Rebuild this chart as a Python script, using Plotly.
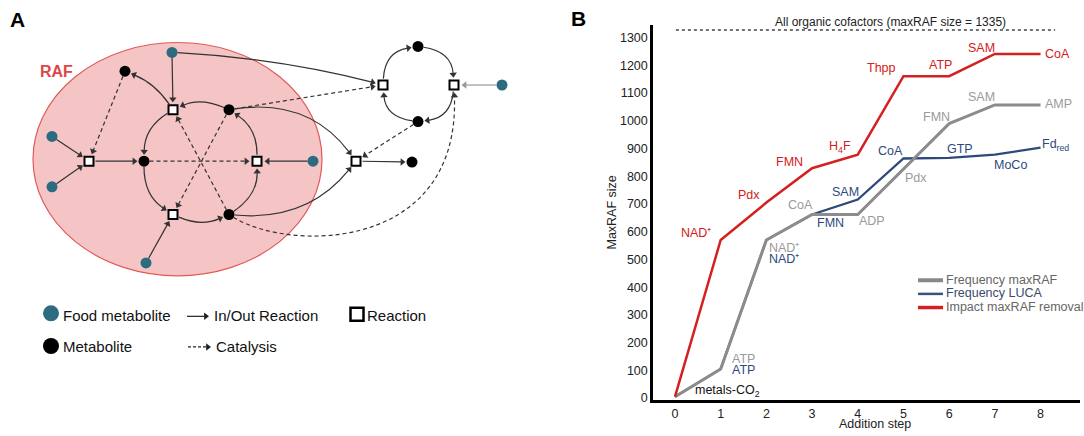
import math
import plotly.graph_objects as go

# ---------------- Panel B data ----------------
steps = [0, 1, 2, 3, 4, 5, 6, 7, 8]
freq_maxraf = [5, 105, 570, 662, 662, 826, 990, 1057, 1057]
freq_luca = [5, 105, 570, 662, 716, 864, 866, 878, 903]
impact_removal = [5, 570, 705, 829, 878, 1161, 1161, 1241, 1241]
maxraf_all_cofactors = 1327
y_ticks = list(range(0, 1400, 100))
x_ticks = steps

impact_labels = ["NAD⁺", "Pdx", "FMN", "H<sub>4</sub>F", "Thpp", "ATP", "SAM", "CoA"]
freq_labels = ["ATP", "NAD⁺", "CoA", "ADP", "Pdx", "FMN", "SAM", "AMP"]
luca_labels = ["ATP", "NAD⁺", "FMN", "SAM", "CoA", "GTP", "MoCo", "Fd<sub>red</sub>"]
start_label = "metals-CO<sub>2</sub>"

# label offsets in pixels (xshift, yshift) relative to the point of steps 1..8
impact_offsets = [(-25, 7), (-17, 8), (-23, 6), (-18, 8), (-22, 8), (-9, 11), (-13, 6), (17, 0)]
freq_offsets = [(23, 10), (18, -8), (-12, 10), (14, -6), (13, -9), (-13, 7), (-13, 8), (18, 1)]
luca_offsets = [(23, -1), (18, -19), (18, -8), (-12, 8), (-13, 8), (11, 9), (16, -10), (15, 3)]

RED = "#D42020"
GRAY = "#8C8C8C"
BLUE = "#2E4A7D"
GRAY_TXT = "#9A9A9A"
FONT = "Liberation Sans, Arial, sans-serif"

# ---------------- Panel A network ----------------
nodes = {
    "F1": (172, 53, "food"), "F2": (52, 138, "food"), "F3": (52, 189, "food"),
    "F4": (313, 163, "food"), "F5": (146, 266, "food"), "F6": (502, 86, "food"),
    "M1": (125, 72, "met"), "M2": (144, 163, "met"), "M3": (229, 111, "met"),
    "M4": (229, 217, "met"), "M5": (418, 47, "met"), "M6": (418, 123, "met"),
    "M7": (412, 164, "met"),
    "R1": (89, 163, "rxn"), "R2": (173, 111, "rxn"), "R3": (257, 163, "rxn"),
    "R4": (173, 217, "rxn"), "R5": (383, 86, "rxn"), "R6": (454, 86, "rxn"),
    "R7": (356, 163, "rxn"),
}
# (source, target, bend, kind)
edges = [
    ("F1", "R2", 0, "solid"), ("F1", "R5", -0.05, "solid"),
    ("F2", "R1", 0, "solid"), ("F3", "R1", 0, "solid"),
    ("R1", "M2", 0, "solid"), ("R2", "M1", 0.15, "solid"),
    ("M3", "R2", 0.22, "solid"), ("R2", "M2", 0.27, "solid"),
    ("M2", "R4", 0.27, "solid"), ("R4", "M4", 0.22, "solid"),
    ("M4", "R3", 0.27, "solid"), ("R3", "M3", 0.27, "solid"),
    ("F4", "R3", 0, "solid"), ("F5", "R4", 0, "solid"),
    ("M3", "R7", -0.3, "solid"), ("M4", "R7", 0.27, "solid"),
    ("R7", "M7", 0, "solid"),
    ("R5", "M5", -0.4, "solid"), ("M5", "R6", -0.4, "solid"),
    ("R6", "M6", -0.4, "solid"), ("M6", "R5", -0.4, "solid"),
    ("F6", "R6", 0, "food"),
    ("M1", "R1", 0, "dash"), ("M2", "R3", 0, "dash"),
    ("M3", "R4", 0, "dash"), ("M4", "R2", 0, "dash"),
    ("M3", "R5", 0, "dash"), ("M6", "R7", 0, "dash"),
]
# long catalysis curve drawn as cubic bezier: source, target, control points
cubic_edges = [("M4", "R6", (290, 255), (460, 255), "dash")]

fig = go.Figure()

# ---- Panel B traces ----
fig.add_trace(go.Scatter(x=steps, y=freq_luca, mode="lines", line=dict(color=BLUE, width=2.3),
                         showlegend=False, xaxis="x", yaxis="y", hoverinfo="skip"))
fig.add_trace(go.Scatter(x=steps, y=freq_maxraf, mode="lines", line=dict(color=GRAY, width=3),
                         showlegend=False, xaxis="x", yaxis="y", hoverinfo="skip"))
fig.add_trace(go.Scatter(x=steps, y=impact_removal, mode="lines", line=dict(color=RED, width=2.5),
                         showlegend=False, xaxis="x", yaxis="y", hoverinfo="skip"))
fig.add_trace(go.Scatter(x=[0.02, 8.32], y=[maxraf_all_cofactors] * 2, mode="lines",
                         line=dict(color="#444", width=1.5, dash="dot"),
                         showlegend=False, xaxis="x", yaxis="y", hoverinfo="skip"))

annotations = []


def lab(x, y, text, color, off):
    annotations.append(dict(x=x, y=y, xref="x", yref="y", text=text, showarrow=False,
                            xshift=off[0], yshift=off[1], xanchor="center", yanchor="middle",
                            font=dict(family=FONT, size=12.5, color=color)))


for i in range(8):
    lab(steps[i + 1], impact_removal[i + 1], impact_labels[i], RED, impact_offsets[i])
    lab(steps[i + 1], freq_maxraf[i + 1], freq_labels[i], GRAY_TXT, freq_offsets[i])
    lab(steps[i + 1], freq_luca[i + 1], luca_labels[i], BLUE, luca_offsets[i])
lab(steps[0], freq_maxraf[0], start_label, "#111", (52, 6))

W, H = 1084, 436


def px(x):
    return x / W


def py(y):
    return (H - y) / H


def paper_text(x, y, text, size, color="#222", anchor="center", angle=0):
    annotations.append(dict(x=px(x), y=py(y), xref="paper", yref="paper", showarrow=False,
                            text=text, textangle=angle, xanchor=anchor, yanchor="middle",
                            font=dict(family=FONT, size=size, color=color)))


paper_text(890, 22, "All organic cofactors (maxRAF size = 1335)", 12)
paper_text(612, 215, "MaxRAF size", 12.5, angle=-90)
paper_text(875, 428.5, "Addition step", 12.5)
paper_text(17.5, 20, "<b>A</b>", 21, "#000")
paper_text(578, 19, "<b>B</b>", 21, "#000")

shapes = []
# Panel B legend
legend_items = [("Frequency maxRAF", "#888888", 4, "#666"),
                ("Frequency LUCA", "#3A5283", 2.5, "#3A4A6A"),
                ("Impact maxRAF removal", RED, 3.5, "#666")]
for k, (name, col, wd, tcol) in enumerate(legend_items):
    yy = 283.5 + k * 13.8
    shapes.append(dict(type="line", xref="paper", yref="paper", x0=px(918), x1=px(943),
                       y0=py(yy), y1=py(yy), line=dict(color=col, width=wd)))
    paper_text(944, yy - 0.5, name, 12.5, tcol, anchor="left")

# ---- Panel A ----
shapes.append(dict(type="circle", xref="x2", yref="y2", x0=33, x1=322, y0=43, y1=279,
                   fillcolor="#F5C4C4", line=dict(color="#E05A5A", width=1.2), layer="below"))
annotations.append(dict(x=56, y=72, xref="x2", yref="y2", showarrow=False, text="<b>RAF</b>",
                        xanchor="center", yanchor="middle",
                        font=dict(family=FONT, size=16, color="#E04545")))


def radius(n):
    return 7.5 if nodes[n][2] == "rxn" else 6.5


def toward(p, q, r):
    dx, dy = q[0] - p[0], q[1] - p[1]
    d = math.hypot(dx, dy)
    return (p[0] + dx / d * r, p[1] + dy / d * r)


HEAD = 6.5  # arrowhead marker size
heads_x, heads_y, heads_ang, heads_col = [], [], [], []


def arrow_head(end, ref, color):
    dx, dy = end[0] - ref[0], end[1] - ref[1]
    d = math.hypot(dx, dy)
    ux, uy = dx / d, dy / d
    c = (end[0] - ux * HEAD / 2, end[1] - uy * HEAD / 2)
    heads_x.append(c[0])
    heads_y.append(c[1])
    heads_ang.append(math.degrees(math.atan2(ux, -uy)))
    heads_col.append(color)
    return (end[0] - ux * HEAD * 0.6, end[1] - uy * HEAD * 0.6)


for s, t, bend, kind in edges:
    p0 = nodes[s][:2]
    p2 = nodes[t][:2]
    dx, dy = p2[0] - p0[0], p2[1] - p0[1]
    c = ((p0[0] + p2[0]) / 2 - bend * dy, (p0[1] + p2[1]) / 2 + bend * dx)
    st = toward(p0, c, radius(s) - 1)
    en = toward(p2, c, radius(t))
    color = "#999999" if kind == "food" else "#333333"
    dash = "4px,3px" if kind == "dash" else "solid"
    en2 = arrow_head(en, c, color)
    if bend == 0:
        path = f"M {st[0]},{st[1]} L {en2[0]},{en2[1]}"
    else:
        path = f"M {st[0]},{st[1]} Q {c[0]},{c[1]} {en2[0]},{en2[1]}"
    shapes.append(dict(type="path", xref="x2", yref="y2", path=path,
                       line=dict(color=color, width=1.2, dash=dash)))

for s, t, c1, c2, kind in cubic_edges:
    p0 = nodes[s][:2]
    p3 = nodes[t][:2]
    st = toward(p0, c1, radius(s) - 1)
    en = toward(p3, c2, radius(t))
    en2 = arrow_head(en, c2, "#333333")
    path = f"M {st[0]},{st[1]} C {c1[0]},{c1[1]} {c2[0]},{c2[1]} {en2[0]},{en2[1]}"
    shapes.append(dict(type="path", xref="x2", yref="y2", path=path,
                       line=dict(color="#333", width=1.2, dash="4px,3px")))

# Panel A legend arrows
shapes.append(dict(type="line", xref="x2", yref="y2", x0=187, x1=205, y0=320, y1=320,
                   line=dict(color="#222", width=1.2)))
arrow_head((209, 320), (187, 320), "#222222")
shapes.append(dict(type="line", xref="x2", yref="y2", x0=188, x1=206, y0=351, y1=351,
                   line=dict(color="#222", width=1.2, dash="3px,2px")))
arrow_head((211, 351), (188, 351), "#222222")

fig.add_trace(go.Scatter(x=heads_x, y=heads_y, mode="markers", xaxis="x2", yaxis="y2",
                         marker=dict(symbol="triangle-up", size=HEAD, angle=heads_ang, opacity=1,
                                     color=heads_col, line=dict(width=0)),
                         showlegend=False, hoverinfo="skip"))

for kind, sym, size, fill, lw in [("food", "circle", 11, "#2C6B80", 0),
                                   ("met", "circle", 11, "#000000", 0),
                                   ("rxn", "square", 9, "#FFFFFF", 2)]:
    xs = [v[0] for v in nodes.values() if v[2] == kind]
    ys = [v[1] for v in nodes.values() if v[2] == kind]
    fig.add_trace(go.Scatter(x=xs, y=ys, mode="markers", xaxis="x2", yaxis="y2",
                             marker=dict(symbol=sym, size=size, color=fill, opacity=1,
                                         line=dict(color="#000", width=lw)),
                             showlegend=False, hoverinfo="skip"))

# Panel A legend
legend_a_markers = [(51, 317, "circle", "#2C6B80", 0), (51, 350, "circle", "#000", 0),
                    (357, 318, "square", "#FFFFFF", 2.5)]
fig.add_trace(go.Scatter(x=[m[0] for m in legend_a_markers], y=[m[1] for m in legend_a_markers],
                         mode="markers", xaxis="x2", yaxis="y2", showlegend=False, hoverinfo="skip",
                         marker=dict(symbol=[m[2] for m in legend_a_markers], size=[16, 16, 13],
                                     color=[m[3] for m in legend_a_markers], opacity=1,
                                     line=dict(color="#000", width=[m[4] for m in legend_a_markers]))))
for x, y, txt in [(61, 319, "Food metabolite"), (61, 351, "Metabolite"),
                  (212, 319, "In/Out Reaction"), (214, 351, "Catalysis"), (365, 319, "Reaction")]:
    annotations.append(dict(x=x, y=y, xref="x2", yref="y2", showarrow=False, xanchor="left",
                            yanchor="middle", text=txt,
                            font=dict(family=FONT, size=15, color="#111")))

fig.update_layout(
    width=W, height=H, margin=dict(l=0, r=0, t=0, b=0),
    paper_bgcolor="white", plot_bgcolor="rgba(0,0,0,0)",
    showlegend=False,
    xaxis=dict(domain=[653 / W, 1080 / W], range=[-0.4815, 8.8635], tickvals=x_ticks,
               showgrid=False, zeroline=False, showline=True, linecolor="#000", linewidth=2.5,
               ticks="", tickfont=dict(family=FONT, size=12.5, color="#222")),
    yaxis=dict(domain=[(H - 405) / H, (H - 25) / H], range=[-8.2, 1346.5], tickvals=y_ticks,
               showgrid=False, zeroline=False, showline=True, linecolor="#000", linewidth=2.5,
               ticks="", tickfont=dict(family=FONT, size=12.5, color="#222")),
    xaxis2=dict(domain=[0, 560 / W], range=[0, 560], visible=False),
    yaxis2=dict(domain=[0, 1], range=[436, 0], visible=False),
    shapes=shapes, annotations=annotations,
)

fig.write_html("out.html", config={"displayModeBar": False},
               post_script="document.body.style.margin='0px';document.body.style.overflow='hidden';")
